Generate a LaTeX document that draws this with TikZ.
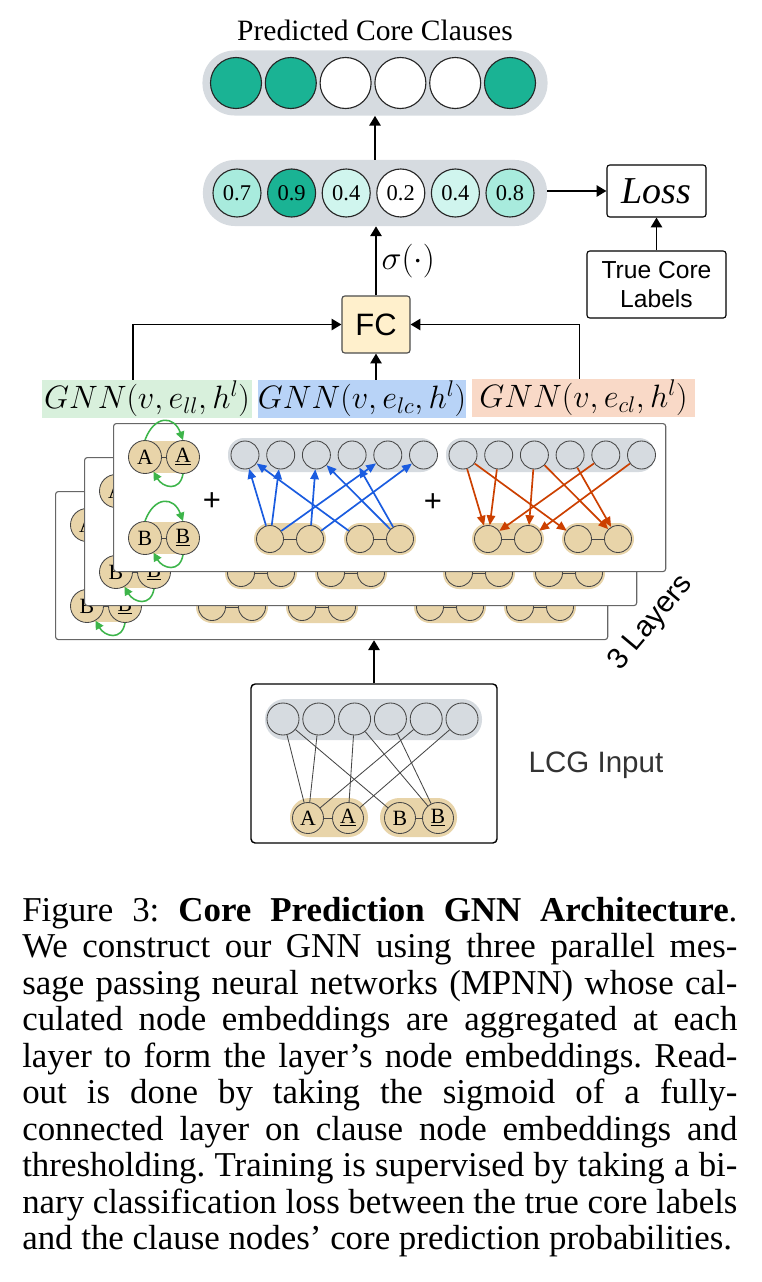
\RequirePackage{fix-cm}
\documentclass[tikz,border=0pt]{standalone}
\usepackage{fontspec}
\setmainfont{Liberation Serif}
\setsansfont{Liberation Sans}
\usetikzlibrary{arrows.meta,positioning}

\definecolor{coreteal}{RGB}{26,179,148}
\definecolor{probhi}{RGB}{168,235,221}
\definecolor{problo}{RGB}{208,245,238}
\definecolor{clsgray}{RGB}{214,219,224}
\definecolor{littan}{RGB}{232,212,169}
\definecolor{llgreen}{RGB}{216,240,220}
\definecolor{lcblue}{RGB}{184,211,247}
\definecolor{clorange}{RGB}{249,217,199}
\definecolor{fcfill}{RGB}{255,240,204}
\definecolor{msgblue}{RGB}{26,92,224}
\definecolor{msgorange}{RGB}{204,64,0}
\definecolor{msggreen}{RGB}{61,181,74}
\definecolor{edgegray}{RGB}{70,70,70}

\begin{document}
\begin{tikzpicture}[x=0.025cm, y=-0.025cm, >={Triangle[length=7pt,width=8pt]},
  flow/.style={->, line width=1.4pt},
  capsule/.style={fill=clsgray, inner sep=0pt},
  pred/.style={circle, draw=black!85, line width=0.8pt, minimum size=1.275cm, inner sep=0pt},
  prob/.style={pred, minimum size=1.2cm, font=\fontsize{16}{16}\selectfont},
  lit/.style={circle, draw=edgegray, line width=0.6pt, fill=littan, minimum size=0.825cm, inner sep=0pt, font=\fontsize{15.5}{15.5}\selectfont},
  litsm/.style={lit, minimum size=0.675cm},
  cls/.style={circle, draw=edgegray, line width=0.6pt, fill=clsgray, minimum size=0.7cm, inner sep=0pt},
  layerbox/.style={draw=black!60, fill=white, line width=0.8pt, rounded corners=2pt, minimum width=13.8cm, minimum height=3.7cm, anchor=north west, inner sep=0pt},
  gnnlab/.style={minimum height=0.95cm, inner sep=0pt, font=\fontsize{23}{23}\selectfont},
  box/.style={draw, line width=0.8pt, rounded corners=2pt, align=center, inner sep=0pt},
  bmsg/.style={-{Triangle[length=7pt,width=6pt]}, draw=msgblue, line width=1.2pt},
  omsg/.style={-{Triangle[length=7pt,width=6pt]}, draw=msgorange, line width=1.2pt},
  selfmsg/.style={-{Triangle[length=6pt,width=6pt]}, draw=msggreen, line width=1.1pt},
  plus/.style={font=\sffamily\fontsize{22}{22}\selectfont}]
\useasboundingbox (0,0) rectangle (762,1282);

% readout
\node[font=\fontsize{21}{21}\selectfont] (title) at (375,30) {Predicted Core Clauses};
\node[capsule, minimum width=8.625cm, minimum height=1.625cm, rounded corners=0.8cm] (preds) at (375,83) {};
\foreach \i/\c in {1/coreteal,2/coreteal,3/white,4/white,5/white,6/coreteal}
  \node[pred, fill=\c] (o\i) at ({236+54.8*(\i-1)},83) {};
\node[capsule, minimum width=8.6cm, minimum height=1.65cm, rounded corners=0.8cm] (probs) at (375,193) {};
\foreach \i/\v/\c in {1/0.7/probhi,2/0.9/coreteal,3/0.4/problo,4/0.2/white,5/0.4/problo,6/0.8/probhi}
  \node[prob, fill=\c] (q\i) at ({237+54.6*(\i-1)},193) {\v};
\draw[flow] (probs) -- (preds);

\node[box, minimum width=2.475cm, minimum height=1.3cm, font=\fontsize{27}{27}\selectfont\itshape] (loss) at (656.5,191) {Loss};
\node[box, minimum width=3.475cm, minimum height=1.675cm, font=\sffamily\fontsize{17.5}{21}\selectfont] (truth) at (656.5,284.5) {True Core\\Labels};
\draw[flow] (probs.east |- loss) -- (loss);
\draw[flow] (truth) -- (loss);

\node[box, fill=fcfill, draw=black!70, minimum width=1.7cm, minimum height=1.425cm, font=\sffamily\fontsize{22}{22}\selectfont] (fc) at (376,324.5) {FC};
\draw[flow] (fc) -- node[right, font=\fontsize{24}{24}\selectfont] {$\sigma(\cdot)$} (fc |- probs.south);

% three message passing parts
\node[gnnlab, fill=llgreen, minimum width=5.25cm] (gll) at (147,399) {$GNN(v,e_{ll},h^l)$};
\node[gnnlab, fill=lcblue, minimum width=5.2cm] (glc) at (362,399) {$GNN(v,e_{lc},h^l)$};
\node[gnnlab, fill=clorange, minimum width=5.575cm] (gcl) at (583.5,398) {$GNN(v,e_{cl},h^l)$};
\draw[flow] ([xshift=-0.35cm]gll.north) |- (fc.west);
\draw[flow] (glc.north -| fc) -- (fc);
\draw[flow] ([xshift=-0.1cm]gcl.north) |- (fc.east);

% stacked layers, back to front
\foreach \k/\dx/\dy in {b/-58/68, m/-29/34, f/0/0}{
  \begin{scope}[shift={(113+\dx,423+\dy)}]
    \node[layerbox] (\k-box) at (0,0) {};
    \fill[littan] (32,18) rectangle (70,50);
    \fill[littan] (32,99) rectangle (70,131);
    \node[lit] (\k-a) at (32,34) {A};
    \node[lit] (\k-na) at (70,34) {\underline{A}};
    \node[lit] (\k-b) at (32,115) {B};
    \node[lit] (\k-nb) at (70,115) {\underline{B}};
    \draw[edgegray] (\k-a) -- (\k-na) (\k-b) -- (\k-nb);
    \draw[selfmsg] (\k-a.north) to[out=70,in=110,looseness=1.8] (\k-na.north);
    \draw[selfmsg] (\k-na.south) to[out=-100,in=-60,looseness=1.6] (\k-a.-60);
    \draw[selfmsg] (\k-b.north) to[out=70,in=110,looseness=1.8] (\k-nb.north);
    \draw[selfmsg] (\k-nb.south) to[out=-100,in=-60,looseness=1.6] (\k-b.-60);
    \node[plus] (\k-plus1) at (99,79) {+};
    % literal -> clause
    \fill[clsgray, rounded corners=0.4cm] (115,15) rectangle (324,49);
    \foreach \i in {1,...,6}
      \node[cls] (\k-lt\i) at ({132+35.7*(\i-1)},32) {};
    \fill[littan, rounded corners=0.4cm] (141,100) rectangle (213,132);
    \fill[littan, rounded corners=0.4cm] (231,100) rectangle (303,132);
    \foreach \i/\x in {1/157,2/197,3/247,4/287}
      \node[litsm] (\k-lp\i) at (\x,116) {};
    \draw[edgegray] (\k-lp1) -- (\k-lp2) (\k-lp3) -- (\k-lp4);
    \foreach \p/\t in {1/1,1/2,1/5,2/3,2/6,3/1,4/3,4/4}
      \draw[bmsg] (\k-lp\p) -- (\k-lt\t);
    \node[plus] (\k-plus2) at (320,80) {+};
    % clause -> literal
    \fill[clsgray, rounded corners=0.4cm] (333,15) rectangle (542,49);
    \foreach \i in {1,...,6}
      \node[cls] (\k-ct\i) at ({350+35.7*(\i-1)},32) {};
    \fill[littan, rounded corners=0.4cm] (359,100) rectangle (431,132);
    \fill[littan, rounded corners=0.4cm] (449,100) rectangle (521,132);
    \foreach \i/\x in {1/375,2/415,3/465,4/505}
      \node[litsm] (\k-cp\i) at (\x,116) {};
    \draw[edgegray] (\k-cp1) -- (\k-cp2) (\k-cp3) -- (\k-cp4);
    \foreach \p/\t in {1/1,1/2,1/5,2/3,2/6,3/1,4/3,4/4}
      \draw[omsg] (\k-ct\t) -- (\k-cp\p);
  \end{scope}
}
\node[rotate=50, font=\sffamily\fontsize{21}{21}\selectfont] (nlayers) at (651,623) {3 Layers};

% input graph
\node[box, minimum width=6.15cm, minimum height=3.975cm, rounded corners=3pt, line width=1pt] (lcg) at (374,763.5) {};
\fill[clsgray, rounded corners=0.5cm] (265,699) rectangle (482,740);
\foreach \i in {1,...,6}
  \node[cls, minimum size=0.8cm] (in-t\i) at ({283+35.8*(\i-1)},719) {};
\fill[littan, rounded corners=0.48cm] (290,798) rectangle (368,837);
\fill[littan, rounded corners=0.48cm] (380,798) rectangle (457,837);
\node[lit, minimum size=0.775cm] (in-a) at (308,818) {A};
\node[lit, minimum size=0.775cm] (in-na) at (348,818) {\underline{A}};
\node[lit, minimum size=0.775cm] (in-b) at (400,818) {B};
\node[lit, minimum size=0.775cm] (in-nb) at (438,818) {\underline{B}};
\draw[edgegray] (in-a) -- (in-na) (in-b) -- (in-nb);
\foreach \t/\l in {1/a,2/a,5/a,3/na,6/na,1/b,3/nb,4/nb}
  \draw[edgegray, line width=0.6pt] (in-t\t) -- (in-\l);
\node[font=\sffamily\fontsize{21}{21}\selectfont, text=black!80] (lcgtext) at (596,765) {LCG Input};
\draw[flow] (lcg.north) -- (lcg.north |- b-box.south);

% caption
\node[anchor=north west, text width=17.875cm, align=justify, inner sep=0pt, font=\fontsize{24.8}{25.95}\selectfont\frenchspacing] (caption) at (22,897) {Figure 3: \textbf{Core Prediction GNN Architecture}.\linebreak
We construct our GNN using three parallel mes-\linebreak
sage passing neural networks (MPNN) whose cal-\linebreak
culated node embeddings are aggregated at each\linebreak
layer to form the layer's node embeddings. Read-\linebreak
out is done by taking the sigmoid of a fully-\linebreak
connected layer on clause node embeddings and\linebreak
thresholding. Training is supervised by taking a bi-\linebreak
nary classification loss between the true core labels\linebreak
and the clause nodes' core prediction probabilities.};
\end{tikzpicture}
\end{document}
